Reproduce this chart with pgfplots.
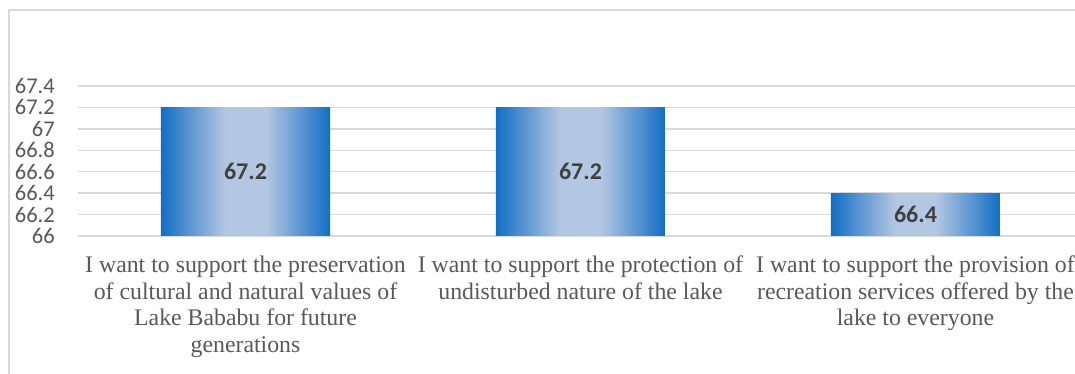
\documentclass[border=0pt]{standalone}
\usepackage{fontspec}
\setmainfont{Carlito}
\newfontfamily\timesfont{Liberation Serif}
\usepackage{pgfplots}
\pgfplotsset{compat=1.18}
\definecolor{bdark}{RGB}{18,110,196}
\definecolor{blight}{RGB}{180,199,226}
\definecolor{gridc}{RGB}{217,217,217}
\definecolor{tickc}{RGB}{89,89,89}
\definecolor{labc}{RGB}{64,64,64}
\pgfdeclarehorizontalshading{barshade}{100bp}{color(0bp)=(bdark); color(25bp)=(bdark); color(44bp)=(blight); color(56bp)=(blight); color(75bp)=(bdark); color(100bp)=(bdark)}
\begin{document}
\begin{tikzpicture}
\useasboundingbox (0,0) rectangle (1075pt,374pt);
\fill[white] (0,0) rectangle (1075pt,374pt);
\draw[gridc, line width=1.3pt] (9pt,0) -- (9pt,364pt) -- (1075pt,364pt);
\begin{axis}[
  at={(78pt,138pt)}, anchor=south west,
  scale only axis, width=1005pt, height=150pt,
  xmin=-0.5, xmax=2.5, ymin=66, ymax=67.4,
  ytick={66,66.2,66.4,66.6,66.8,67,67.2,67.4},
  xtick={0,1,2},
  xticklabels={{I want to support the preservation\\of cultural and natural values of\\Lake Bababu for future\\generations},
               {I want to support the protection of\\undisturbed nature of the lake},
               {I want to support the provision of\\recreation services offered by the\\lake to everyone}},
  axis line style={draw=none},
  major tick length=0pt,
  ymajorgrids, grid style={gridc, line width=1.3pt},
  yticklabel style={font=\fontsize{22.5}{24}\selectfont, text=tickc, inner sep=0pt, xshift=-23pt},
  xticklabel style={font=\timesfont\fontsize{23.8}{26.5}\selectfont, text=tickc, align=center, inner sep=0pt, anchor=north, yshift=-20pt},
  /pgf/number format/assume math mode=true,
  barstyle/.style={ybar, bar width=169pt, bar shift=0pt, draw=none, shading=barshade, shading angle=0},
]
\addplot[barstyle] coordinates {(0,67.2)};
\addplot[barstyle] coordinates {(1,67.2)};
\addplot[barstyle] coordinates {(2,66.4)};
\addplot[draw=none, mark=none, nodes near coords, point meta=explicit symbolic,
  nodes near coords style={anchor=center, font=\bfseries\fontsize{24}{24}\selectfont, text=labc}]
  table[meta=lab, row sep=\\]{x y lab\\ 0 66.6 67.2\\ 1 66.6 67.2\\ 2 66.2 66.4\\};
\end{axis}
\end{tikzpicture}
\end{document}
